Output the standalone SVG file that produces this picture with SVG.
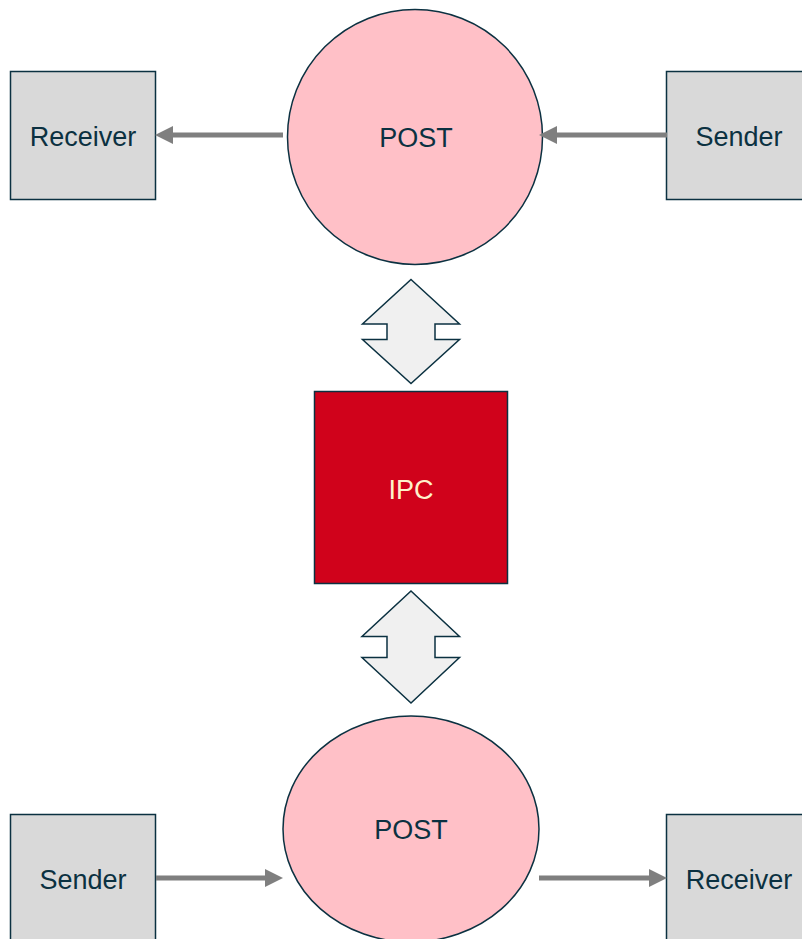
<svg xmlns="http://www.w3.org/2000/svg" width="802" height="939" viewBox="0 0 802 939">
  <style>
    .box { fill: #d9d9d9; stroke: #0b3141; stroke-width: 1.5; }
    .post { fill: #ffc0c7; stroke: #0b3141; stroke-width: 1.5; }
    .ipc { fill: #d0021b; stroke: #0b3141; stroke-width: 1.5; }
    .dbl { fill: #f0f0f0; stroke: #0b3141; stroke-width: 1.5; stroke-linejoin: miter; }
    .flow { stroke: #7f7f7f; stroke-width: 5; fill: none; }
    .head { fill: #7f7f7f; }
    text { font-family: "Liberation Sans", Arial, sans-serif; font-size: 27px; text-anchor: middle; dominant-baseline: central; fill: #0b3141; }
    .light { fill: #fff2cc; }
  </style>

  <!-- top half -->
  <g id="receiver-top">
    <rect class="box" x="10.5" y="71.5" width="145" height="128"/>
    <text x="83" y="137">Receiver</text>
  </g>
  <g id="post-top">
    <circle class="post" cx="415" cy="137" r="127.5"/>
    <text x="416" y="138">POST</text>
  </g>
  <g id="sender-top">
    <rect class="box" x="666.5" y="71.5" width="145" height="128"/>
    <text x="739" y="137">Sender</text>
  </g>

  <!-- message queue core -->
  <g id="ipc">
    <rect class="ipc" x="314.5" y="391.5" width="193" height="192"/>
    <text class="light" x="411" y="490">IPC</text>
  </g>

  <!-- bottom half -->
  <g id="sender-bottom">
    <rect class="box" x="10.5" y="814.5" width="145" height="128"/>
    <text x="83" y="880">Sender</text>
  </g>
  <g id="post-bottom">
    <ellipse class="post" cx="411" cy="829" rx="128" ry="113"/>
    <text x="411" y="830">POST</text>
  </g>
  <g id="receiver-bottom">
    <rect class="box" x="666.5" y="814.5" width="145" height="128"/>
    <text x="739" y="880">Receiver</text>
  </g>

  <g id="connectors">
    <!-- POST -> Receiver (top) -->
    <line class="flow" x1="283" y1="135" x2="170" y2="135"/>
    <polygon class="head" points="155,135 173,126 173,144"/>
    <!-- Sender -> POST (top) -->
    <line class="flow" x1="667" y1="135" x2="552" y2="135"/>
    <polygon class="head" points="539,135 557,126 557,144"/>
    <!-- Sender -> POST (bottom) -->
    <line class="flow" x1="156" y1="878" x2="268" y2="878"/>
    <polygon class="head" points="283,878 265,869 265,887"/>
    <!-- POST -> Receiver (bottom) -->
    <line class="flow" x1="539" y1="878" x2="652" y2="878"/>
    <polygon class="head" points="667,878 649,869 649,887"/>

    <!-- POST <-> IPC -->
    <path class="dbl" d="M411,279.5 L459.5,324 L435,324 L435,339.5 L459.5,339.5 L411,383.5 L362.5,339.5 L387,339.5 L387,324 L362.5,324 Z"/>
    <!-- IPC <-> POST -->
    <path class="dbl" d="M411,591 L459.5,636.5 L435,636.5 L435,657.5 L459.5,657.5 L411,703 L362,657.5 L387,657.5 L387,636.5 L362,636.5 Z"/>
  </g>
</svg>
